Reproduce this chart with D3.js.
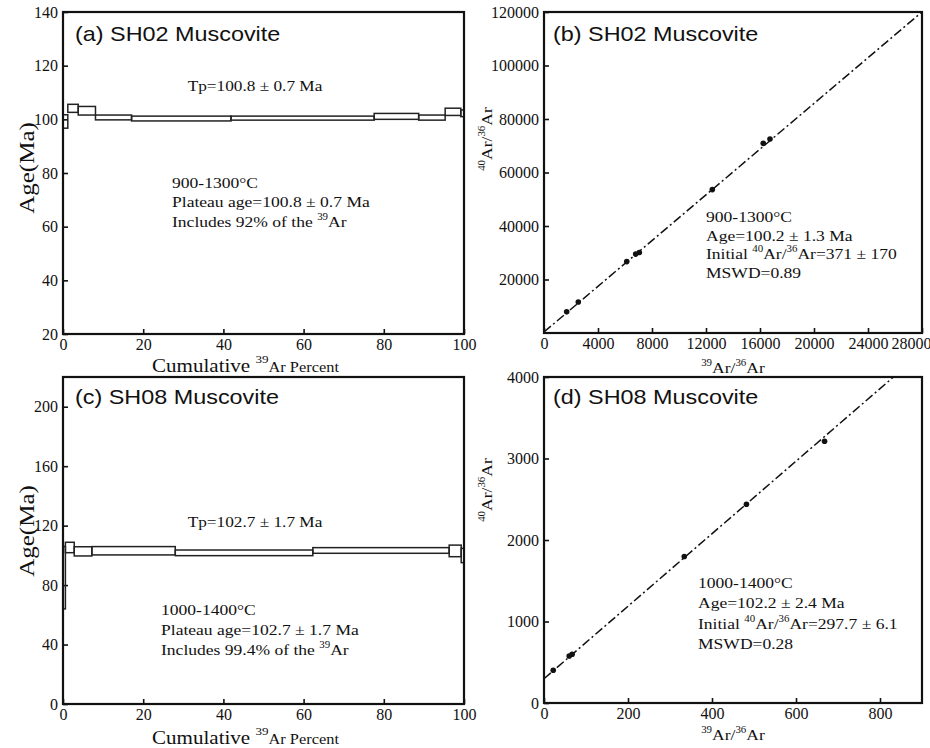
<!DOCTYPE html>
<meta charset="utf-8">

<!-- Load d3.js -->
<script src="https://d3js.org/d3.v7.min.js"></script>

<style>
  body {margin: 0; background: #fff;}
  .serif {font-family: "Liberation Serif", "Times New Roman", serif;}
  .sans {font-family: "Liberation Sans", Arial, sans-serif;}
</style>

<div id="my_dataviz"></div>

<script>

// (a) SH02 age spectrum: step edges in cumulative 39Ar %, step age and error (Ma)
var a_cum = [0, 1.2, 3.8, 8.1, 17.1, 41.9, 77.6, 88.7, 95.3, 99.2, 100];
var a_age = [99.2, 104.1, 103.2, 100.7, 100.3, 100.45, 101.1, 100.65, 102.8, 102.25];
var a_err = [2.5, 1.5, 1.6, 0.9, 0.9, 0.75, 1.1, 0.95, 1.35, 1.25];

// (c) SH08 age spectrum
var c_cum = [0, 0.6, 2.8, 7.2, 28, 62.3, 96.3, 99.3, 100];
var c_age = [85, 105.3, 102.7, 103.1, 101.7, 103.3, 103, 99.9];
var c_err = [21, 3.5, 3.1, 2.8, 1.9, 1.9, 3.9, 4.8];

// (b) SH02 isochron points (39Ar/36Ar, 40Ar/36Ar) and fit [intercept, slope]
var b_x = [1680, 2540, 6130, 6790, 7060, 12470, 16240, 16740];
var b_y = [7900, 11600, 26700, 29500, 30100, 53600, 70900, 72500];
var b_fit = [371, 4.2725];

// (d) SH08 isochron points and fit
var d_x = [22, 60, 67, 334, 482, 668];
var d_y = [402, 577, 598, 1797, 2439, 3211];
var d_fit = [297.7, 4.449];

// tick values
var cumTicks = [0, 20, 40, 60, 80, 100];
var a_yTicks = [20, 40, 60, 80, 100, 120, 140];
var c_yTicks = [0, 40, 80, 120, 160, 200];
var b_xTicks = [0, 4000, 8000, 12000, 16000, 20000, 24000, 28000];
var b_yTicks = [20000, 40000, 60000, 80000, 100000, 120000];
var d_xTicks = [0, 200, 400, 600, 800];
var d_yTicks = [0, 1000, 2000, 3000, 4000];

var svg = d3.select("#my_dataviz")
  .append("svg")
    .attr("width", 930)
    .attr("height", 748);

// text helper: parts are strings or {t, sup}
function txt(x, y, parts, o) {
  o = o || {};
  var size = o.size || 15, sx = o.sx || 1;
  var t = svg.append("text")
    .attr("class", o.sans ? "sans" : "serif")
    .attr("font-size", size)
    .attr("text-anchor", o.anchor || "start")
    .attr("fill", "#111")
    .attr("transform", "translate(" + x + "," + y + ")" + (o.rot ? " rotate(" + o.rot + ")" : "") + " scale(" + sx + ",1)");
  var shift = 0;
  parts.forEach(function(p) {
    if (typeof p === "string") p = {t: p};
    var s = p.size || (p.sup ? size * 0.62 : size);
    var target = p.sup ? -size * 0.5 : 0;
    t.append("tspan").attr("font-size", s).attr("dy", target - shift).text(p.t);
    shift = target;
  });
  return t;
}

var clipId = 0;
function panel(box, xdom, ydom, xticks, yticks) {
  var x = d3.scaleLinear().domain(xdom).range([box.l, box.r]);
  var y = d3.scaleLinear().domain(ydom).range([box.b, box.t]);

  var ax = svg.append("g")
    .attr("transform", "translate(0," + box.b + ")")
    .call(d3.axisBottom(x).tickValues(xticks).tickFormat(d3.format("d"))
      .tickSizeInner(-5).tickSizeOuter(0).tickPadding(5));
  var ay = svg.append("g")
    .attr("transform", "translate(" + box.l + ",0)")
    .call(d3.axisLeft(y).tickValues(yticks).tickFormat(d3.format("d"))
      .tickSizeInner(-5).tickSizeOuter(0).tickPadding(5));
  [ax, ay].forEach(function(a) {
    a.select(".domain").remove();
    a.attr("font-family", "Liberation Serif, serif").attr("font-size", 16);
    a.selectAll("line").attr("stroke", "#111").attr("stroke-width", 1.6);
    a.selectAll("text").attr("fill", "#111");
  });

  clipId++;
  svg.append("clipPath").attr("id", "clip" + clipId)
    .append("rect")
      .attr("x", box.l).attr("y", box.t)
      .attr("width", box.r - box.l).attr("height", box.b - box.t);
  var g = svg.append("g").attr("clip-path", "url(#clip" + clipId + ")");

  svg.append("rect")
    .attr("x", box.l).attr("y", box.t)
    .attr("width", box.r - box.l).attr("height", box.b - box.t)
    .attr("fill", "none").attr("stroke", "#111").attr("stroke-width", 2.2);

  return {x: x, y: y, g: g, ax: ax, ay: ay};
}

function spectrum(p, cum, age, err) {
  p.g.selectAll("rect.step")
    .data(age)
    .enter()
    .append("rect")
      .attr("class", "step")
      .attr("x", function(d, i) { return p.x(cum[i]); })
      .attr("width", function(d, i) { return p.x(cum[i + 1]) - p.x(cum[i]); })
      .attr("y", function(d, i) { return p.y(d + err[i]); })
      .attr("height", function(d, i) { return p.y(d - err[i]) - p.y(d + err[i]); })
      .attr("fill", "none")
      .attr("stroke", "#222")
      .attr("stroke-width", 1.5);
}

function isochron(p, xs, ys, fit, xmax) {
  p.g.append("line")
    .attr("x1", p.x(0)).attr("y1", p.y(fit[0]))
    .attr("x2", p.x(xmax)).attr("y2", p.y(fit[0] + fit[1] * xmax))
    .attr("stroke", "#111")
    .attr("stroke-width", 1.5)
    .attr("stroke-dasharray", "9,3,2,3");
  p.g.selectAll("circle.pt")
    .data(xs)
    .enter()
    .append("circle")
      .attr("class", "pt")
      .attr("cx", function(d) { return p.x(d); })
      .attr("cy", function(d, i) { return p.y(ys[i]); })
      .attr("r", 2.8)
      .attr("fill", "#111");
}

// ---- (a)
var pa = panel({l: 63, r: 464, t: 12, b: 334}, [0, 100], [20, 140], cumTicks, a_yTicks);
spectrum(pa, a_cum, a_age, a_err);
txt(75, 41, ["(a) SH02 Muscovite"], {sans: true, size: 20, sx: 1.17});
txt(255, 91, ["Tp=100.8 \u00b1 0.7 Ma"], {size: 15, sx: 1.15, anchor: "middle"});
txt(172, 188, ["900-1300\u00b0C"], {size: 15, sx: 1.17});
txt(172, 207, ["Plateau age=100.8 \u00b1 0.7 Ma"], {size: 15, sx: 1.17});
txt(172, 227, ["Includes 92% of the ", {t: "39", sup: true}, "Ar"], {size: 15, sx: 1.17});
txt(34, 168, ["Age(Ma)"], {size: 20, sx: 1.25, rot: -90, anchor: "middle"});
txt(152, 372, [{t: "Cumulative ", size: 18}, {t: "39", sup: true}, {t: "Ar Percent", size: 14}], {size: 18, sx: 1.17});

// ---- (b)
var pb = panel({l: 544, r: 922, t: 12, b: 333}, [0, 28000], [0, 120000], b_xTicks, b_yTicks);
// last x label sits a little to the left of its tick so it stays inside the page
pb.ax.selectAll(".tick text").filter(function(d) { return d === 28000; }).attr("dx", -11);
isochron(pb, b_x, b_y, b_fit, 28000);
txt(553, 41, ["(b) SH02 Muscovite"], {sans: true, size: 20, sx: 1.17});
txt(706, 222, ["900-1300\u00b0C"], {size: 15, sx: 1.17});
txt(706, 240.5, ["Age=100.2 \u00b1 1.3 Ma"], {size: 15, sx: 1.17});
txt(706, 259, ["Initial ", {t: "40", sup: true}, "Ar/", {t: "36", sup: true}, "Ar=371 \u00b1 170"], {size: 15, sx: 1.17});
txt(706, 277.5, ["MSWD=0.89"], {size: 15, sx: 1.17});
txt(492, 139, [{t: "40", sup: true}, "Ar/", {t: "36", sup: true}, "Ar"], {size: 15, sx: 1.17, rot: -90, anchor: "middle"});
txt(733, 373, [{t: "39", sup: true}, "Ar/", {t: "36", sup: true}, "Ar"], {size: 15, sx: 1.17, anchor: "middle"});

// ---- (c)
var pc = panel({l: 63, r: 464, t: 377, b: 704}, [0, 100], [0, 220], cumTicks, c_yTicks);
spectrum(pc, c_cum, c_age, c_err);
txt(75, 404, ["(c) SH08 Muscovite"], {sans: true, size: 20, sx: 1.17});
txt(255, 527, ["Tp=102.7 \u00b1 1.7 Ma"], {size: 15, sx: 1.15, anchor: "middle"});
txt(161, 615, ["1000-1400\u00b0C"], {size: 15, sx: 1.17});
txt(161, 635, ["Plateau age=102.7 \u00b1 1.7 Ma"], {size: 15, sx: 1.17});
txt(161, 655, ["Includes 99.4% of the ", {t: "39", sup: true}, "Ar"], {size: 15, sx: 1.17});
txt(34, 531, ["Age(Ma)"], {size: 20, sx: 1.25, rot: -90, anchor: "middle"});
txt(152, 744, [{t: "Cumulative ", size: 18}, {t: "39", sup: true}, {t: "Ar Percent", size: 14}], {size: 18, sx: 1.17});

// ---- (d)
var pd = panel({l: 544, r: 922, t: 377, b: 703}, [0, 900], [0, 4000], d_xTicks, d_yTicks);
isochron(pd, d_x, d_y, d_fit, 900);
txt(553, 404, ["(d) SH08 Muscovite"], {sans: true, size: 20, sx: 1.17});
txt(698, 588, ["1000-1400\u00b0C"], {size: 15, sx: 1.17});
txt(698, 608, ["Age=102.2 \u00b1 2.4 Ma"], {size: 15, sx: 1.17});
txt(698, 629, ["Initial ", {t: "40", sup: true}, "Ar/", {t: "36", sup: true}, "Ar=297.7 \u00b1 6.1"], {size: 15, sx: 1.17});
txt(698, 649, ["MSWD=0.28"], {size: 15, sx: 1.17});
txt(492, 490, [{t: "40", sup: true}, "Ar/", {t: "36", sup: true}, "Ar"], {size: 15, sx: 1.17, rot: -90, anchor: "middle"});
txt(733, 740, [{t: "39", sup: true}, "Ar/", {t: "36", sup: true}, "Ar"], {size: 15, sx: 1.17, anchor: "middle"});

</script>
